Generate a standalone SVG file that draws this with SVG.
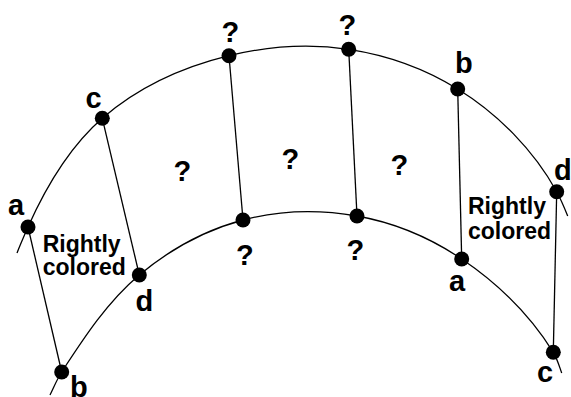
<svg xmlns="http://www.w3.org/2000/svg" width="571" height="397" viewBox="0 0 571 397">
<style>
.arc{fill:none;stroke:#000;stroke-width:1.3}
.ln{stroke:#000;stroke-width:1.3}
.dot{fill:#000}
.lb{font-family:"Liberation Sans",Arial,sans-serif;font-weight:bold;font-size:29px;fill:#000}
.rc{font-family:"Liberation Sans",Arial,sans-serif;font-weight:bold;font-size:23px;fill:#000}
</style>
<rect width="571" height="397" fill="#fff"/>
<g id="arcs">
<path class="arc" d="M17,253 C20.4,244.2 24.2,235.6 28,227 C45.9,186.9 69.2,147.1 102.3,118.3 C137.9,87.4 183.2,66.9 229,55.7 C267.9,46.2 309.2,43.3 348.7,49.3 C386.9,55.1 424.8,68.6 457.7,89 C498.1,114 533.7,150.1 556.7,191.7 C561,199.5 564.4,207.7 567.7,216"/>
<path class="arc" d="M50,395 C53.8,387.3 57,379.2 61.7,372 C84.3,337.3 107.6,301.6 139.3,275 C169.3,249.9 205.2,230.1 243,220 C279.7,210.2 319.6,209.4 357,216 C394.1,222.6 430.4,237.9 461.7,259 C497.8,283.4 530.2,315.3 553.3,352.3 C557.2,358.6 559.2,366 561.7,373"/>
</g>
<g id="connectors">
<line class="ln" x1="28" y1="227" x2="61.7" y2="372"/>
<line class="ln" x1="102.3" y1="118.3" x2="139.3" y2="275"/>
<line class="ln" x1="229" y1="55.7" x2="243" y2="220"/>
<line class="ln" x1="348.7" y1="49.3" x2="357" y2="216"/>
<line class="ln" x1="457.7" y1="89" x2="461.7" y2="259"/>
<line class="ln" x1="556.7" y1="191.7" x2="553.3" y2="352.3"/>
</g>
<g id="n-outer-a"><circle class="dot" cx="28" cy="227" r="7.5"/><text class="lb" x="8" y="214.5">a</text></g>
<g id="n-inner-b"><circle class="dot" cx="61.7" cy="372" r="7.5"/><text class="lb" x="70" y="396.5">b</text></g>
<g id="n-outer-c"><circle class="dot" cx="102.3" cy="118.3" r="7.5"/><text class="lb" x="85.5" y="108">c</text></g>
<g id="n-inner-d"><circle class="dot" cx="139.3" cy="275" r="7.5"/><text class="lb" x="135.5" y="311">d</text></g>
<g id="n-outer-q1"><circle class="dot" cx="229" cy="55.7" r="7.5"/><text class="lb" x="221.5" y="42">?</text></g>
<g id="n-inner-q1"><circle class="dot" cx="243" cy="220" r="7.5"/><text class="lb" x="236" y="265">?</text></g>
<g id="n-outer-q2"><circle class="dot" cx="348.7" cy="49.3" r="7.5"/><text class="lb" x="338.5" y="34.5">?</text></g>
<g id="n-inner-q2"><circle class="dot" cx="357" cy="216" r="7.5"/><text class="lb" x="346.5" y="259.5">?</text></g>
<g id="n-outer-b"><circle class="dot" cx="457.7" cy="89" r="7.5"/><text class="lb" x="455" y="73">b</text></g>
<g id="n-inner-a"><circle class="dot" cx="461.7" cy="259" r="7.5"/><text class="lb" x="449" y="291">a</text></g>
<g id="n-outer-d"><circle class="dot" cx="556.7" cy="191.7" r="7.5"/><text class="lb" x="554" y="180">d</text></g>
<g id="n-inner-c"><circle class="dot" cx="553.3" cy="352.3" r="7.5"/><text class="lb" x="537" y="381.5">c</text></g>
<g id="regions">
<text class="lb" x="173.5" y="181">?</text>
<text class="lb" x="281.5" y="169">?</text>
<text class="lb" x="390.5" y="175">?</text>
<text class="rc" x="42.7" y="251.5">Rightly</text>
<text class="rc" x="42.7" y="275">colored</text>
<text class="rc" x="468" y="214">Rightly</text>
<text class="rc" x="468" y="239">colored</text>
</g>
</svg>
